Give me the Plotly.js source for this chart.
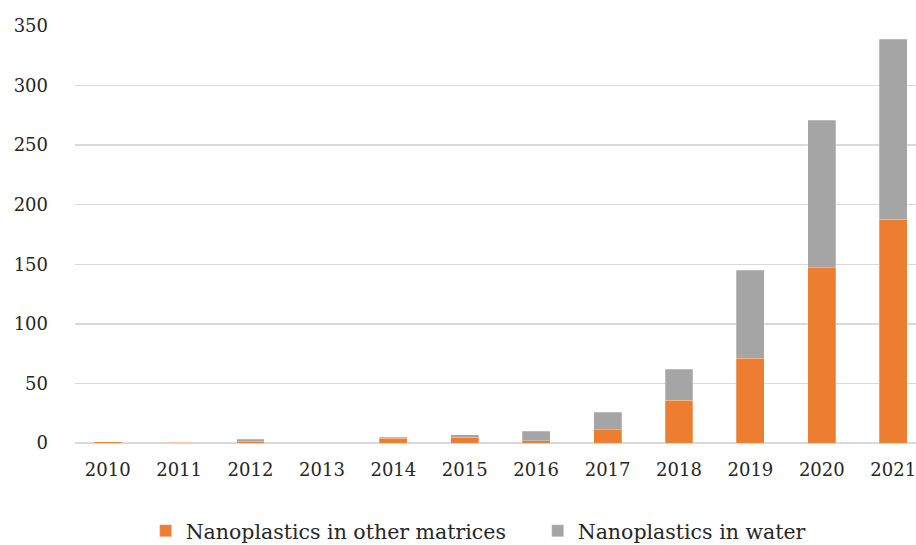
<!DOCTYPE html>
<html>
<head>
<meta charset="utf-8">
<script src="https://cdn.plot.ly/plotly-3.0.1.min.js"></script>
<style>html,body{margin:0;padding:0;background:#fff;}#chart{width:916px;height:545px;}</style>
</head>
<body>
<div id="chart"></div>
<script>
const years = ["2010","2011","2012","2013","2014","2015","2016","2017","2018","2019","2020","2021"];
const otherMatrices = [1, 0.5, 1.5, 0, 4, 5, 2, 11, 36, 71, 147, 188];
const water = [0, 0, 1.5, 0, 1, 2, 8, 15, 26, 74, 124, 151];
const yTicks = [0, 50, 100, 150, 200, 250, 300, 350];

const xIdx = years.map((_, i) => i);
const font = {family: "DejaVu Serif", size: 18, color: "#262626"};
const legendFont = {family: "DejaVu Serif", size: 20.5, color: "#262626"};

const traces = [
  {type: "bar", name: "Nanoplastics in other matrices", x: xIdx, y: otherMatrices, legend: "legend",
   marker: {color: "#ED7D31", line: {color: "rgba(255,255,255,0.5)", width: 0.5}}},
  {type: "bar", name: "Nanoplastics in water", x: xIdx, y: water, legend: "legend2",
   marker: {color: "#A5A5A5", line: {color: "rgba(255,255,255,0.5)", width: 0.5}}}
];

const legendBase = {
  orientation: "h", xref: "container", yref: "container",
  xanchor: "left", y: 0.026, yanchor: "middle",
  font: legendFont, itemwidth: 30
};

const layout = {
  width: 916, height: 545,
  margin: {l: 75, r: 0, t: 26, b: 102},
  barmode: "stack",
  bargap: 0.61,
  paper_bgcolor: "#fff", plot_bgcolor: "#fff",
  font: font,
  xaxis: {
    range: [-0.458, 11.319],
    tickvals: xIdx, ticktext: years,
    showgrid: false, zeroline: false, showline: false,
    ticks: "", ticklabelstandoff: 14, ticklabeloverflow: "allow",
    tickfont: font, fixedrange: true
  },
  yaxis: {
    range: [0, 350],
    tickvals: yTicks,
    showgrid: true, gridcolor: "#D9D9D9", gridwidth: 1.3,
    zeroline: true, zerolinecolor: "#D9D9D9", zerolinewidth: 1.5,
    showline: false, ticks: "", ticklabelstandoff: 26,
    tickfont: font, fixedrange: true
  },
  showlegend: true,
  legend: Object.assign({}, legendBase, {x: 0.159}),
  legend2: Object.assign({}, legendBase, {x: 0.587})
};

Plotly.newPlot("chart", traces, layout, {displayModeBar: false, staticPlot: true});
</script>
</body>
</html>
